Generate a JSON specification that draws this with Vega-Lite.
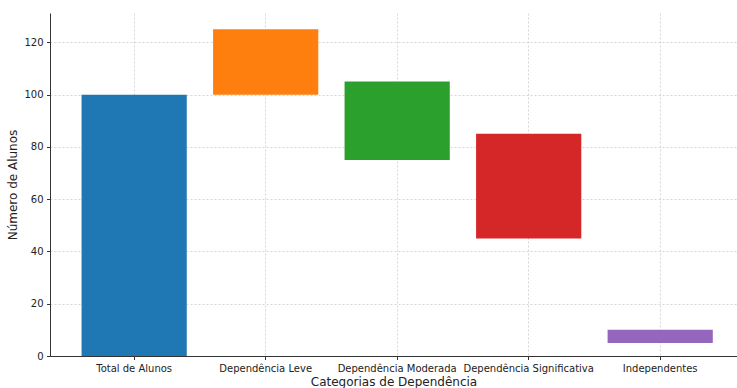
{
  "$schema": "https://vega.github.io/schema/vega-lite/v6.json",
  "autosize": {"type": "none"},
  "width": 687,
  "height": 343,
  "padding": {"left": 50, "top": 13, "right": 0, "bottom": 32},
  "background": "white",
  "config": {
    "font": "DejaVu Sans",
    "view": {"stroke": null},
    "axis": {
      "labelFont": "DejaVu Sans",
      "titleFont": "DejaVu Sans",
      "labelFontSize": 10,
      "titleFontSize": 12,
      "titleFontWeight": "normal",
      "labelColor": "#222",
      "titleColor": "#222",
      "domainColor": "#333",
      "tickColor": "#333",
      "tickSize": 3.5,
      "labelPadding": 3.5,
      "gridColor": "#cccccc",
      "gridDash": [2, 2],
      "gridWidth": 0.8
    }
  },
  "data": {
    "values": [
      {"categoria": "Total de Alunos", "inicio": 0, "fim": 100},
      {"categoria": "Dependência Leve", "inicio": 100, "fim": 125},
      {"categoria": "Dependência Moderada", "inicio": 75, "fim": 105},
      {"categoria": "Dependência Significativa", "inicio": 45, "fim": 85},
      {"categoria": "Independentes", "inicio": 5, "fim": 10}
    ]
  },
  "mark": {"type": "bar", "opacity": 1},
  "encoding": {
    "x": {
      "field": "categoria",
      "type": "nominal",
      "sort": null,
      "scale": {"paddingInner": 0.2, "paddingOuter": 0.212, "align": 0.566},
      "axis": {
        "title": "Categorias de Dependência",
        "labelAngle": 0,
        "grid": true,
        "bandPosition": 0.5,
        "titlePadding": 3
      }
    },
    "y": {
      "field": "inicio",
      "type": "quantitative",
      "scale": {"domain": [0, 131.25], "nice": false},
      "axis": {
        "title": "Número de Alunos",
        "values": [0, 20, 40, 60, 80, 100, 120],
        "grid": true,
        "titlePadding": 4
      }
    },
    "y2": {"field": "fim"},
    "color": {
      "field": "categoria",
      "type": "nominal",
      "legend": null,
      "scale": {
        "domain": ["Total de Alunos", "Dependência Leve", "Dependência Moderada", "Dependência Significativa", "Independentes"],
        "range": ["#1f77b4", "#ff7f0e", "#2ca02c", "#d62728", "#9467bd"]
      }
    }
  }
}
